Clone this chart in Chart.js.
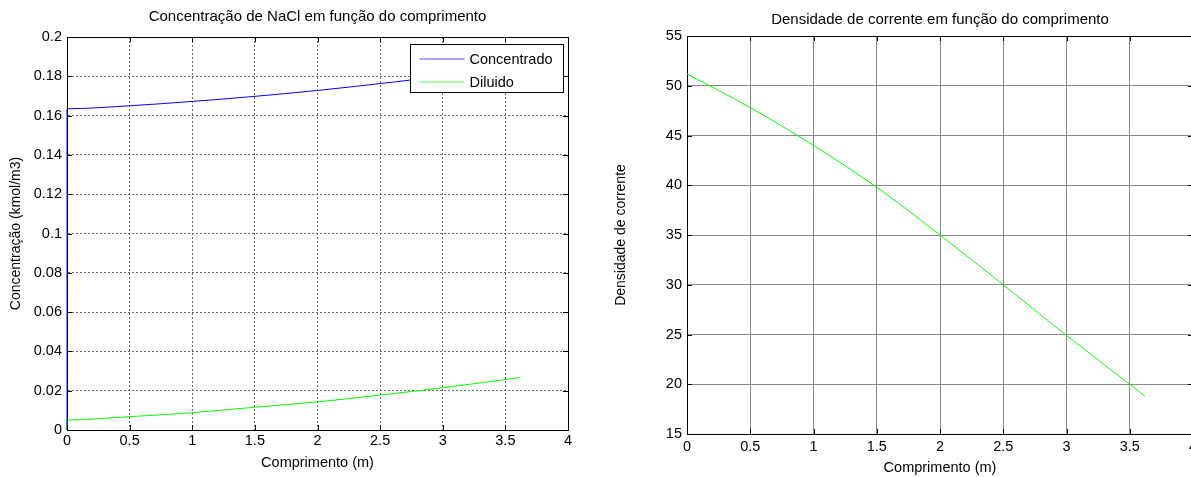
<!DOCTYPE html>
<html>
<head>
<meta charset="utf-8">
<script src="https://cdn.jsdelivr.net/npm/chart.js@4/dist/chart.umd.min.js"></script>
<style>
  html, body { margin: 0; padding: 0; background: #fff; overflow: hidden; width: 1191px; height: 477px; }
  body { position: relative; }
  canvas { position: absolute; top: 0; }
  #left { left: 0; }
  #right { left: 600px; }
</style>
</head>
<body>
<canvas id="left" width="600" height="477"></canvas>
<canvas id="right" width="620" height="477"></canvas>
<script>
// comprimento (m) e valores lidos em cada curva
const xConc = [0, 0, 0.5, 1, 1.5, 2, 2.5, 3, 3.62];
const concentrado = [0, 0.1635, 0.1650, 0.1672, 0.1698, 0.1728, 0.1763, 0.1800, 0.1850];
const xDil = [0, 0, 0.5, 1, 1.5, 2, 2.5, 3, 3.62];
const diluido = [0, 0.0051, 0.0068, 0.0088, 0.0116, 0.0143, 0.0178, 0.0215, 0.0267];
const xDens = [0, 0.5, 1, 1.5, 2, 2.5, 3, 3.5, 3.62];
const densidade = [51.2, 47.8, 44.0, 39.8, 35.0, 30.0, 24.9, 20.0, 18.8];

const xTicks = [0, 0.5, 1, 1.5, 2, 2.5, 3, 3.5, 4];
const xTickLabels = ['0', '0.5', '1', '1.5', '2', '2.5', '3', '3.5', '4'];
const concTicks = [0, 0.02, 0.04, 0.06, 0.08, 0.1, 0.12, 0.14, 0.16, 0.18, 0.2];
const concTickLabels = ['0', '0.02', '0.04', '0.06', '0.08', '0.1', '0.12', '0.14', '0.16', '0.18', '0.2'];
const densTicks = [15, 20, 25, 30, 35, 40, 45, 50, 55];
const densTickLabels = ['15', '20', '25', '30', '35', '40', '45', '50', '55'];

const FONT = '"Liberation Sans", Arial, Helvetica, sans-serif';

function pts(xs, ys) {
  return xs.map((x, i) => ({ x: x, y: ys[i] }));
}

function fixedTicks(values, labels) {
  return {
    afterBuildTicks: s => { s.ticks = values.map(v => ({ value: v })); },
    labels: labels
  };
}

// small inward tick marks on every side of the plot box
const insideTicks = {
  id: 'insideTicks',
  afterDatasetsDraw(chart) {
    const { ctx, chartArea: a, scales } = chart;
    const len = 5;
    ctx.save();
    ctx.strokeStyle = '#000';
    ctx.lineWidth = 1;
    ctx.beginPath();
    scales.x.ticks.forEach(t => {
      const px = Math.round(scales.x.getPixelForValue(t.value)) + 0.5;
      ctx.moveTo(px, a.bottom); ctx.lineTo(px, a.bottom - len);
      ctx.moveTo(px, a.top); ctx.lineTo(px, a.top + len);
    });
    scales.y.ticks.forEach(t => {
      const py = Math.round(scales.y.getPixelForValue(t.value)) + 0.5;
      ctx.moveTo(a.left, py); ctx.lineTo(a.left + len, py);
      ctx.moveTo(a.right, py); ctx.lineTo(a.right - len, py);
    });
    ctx.stroke();
    ctx.restore();
  }
};

// legend box in the upper right corner of the plot
const boxLegend = {
  id: 'boxLegend',
  afterDatasetsDraw(chart, args, opts) {
    if (!opts.show) return;
    const { ctx, chartArea: a } = chart;
    const w = 153, h = 48;
    const left = Math.round(a.right - 5 - w) + 0.5;
    const top = Math.round(a.top + 7) + 0.5;
    ctx.save();
    ctx.fillStyle = '#fff';
    ctx.fillRect(left, top, w, h);
    ctx.strokeStyle = '#000';
    ctx.lineWidth = 1;
    ctx.strokeRect(left, top, w, h);
    ctx.font = '14.5px ' + FONT;
    ctx.textBaseline = 'middle';
    ctx.fillStyle = '#000';
    chart.data.datasets.forEach((ds, i) => {
      const y = Math.round(top + 14 + i * 23);
      ctx.strokeStyle = ds.borderColor;
      ctx.globalAlpha = 0.7;
      ctx.beginPath();
      ctx.moveTo(left + 9, y);
      ctx.lineTo(left + 54, y);
      ctx.stroke();
      ctx.globalAlpha = 1;
      ctx.fillText(ds.label, left + 59, y + 0.5);
    });
    ctx.restore();
  }
};

function buildScales(cfg) {
  const xt = fixedTicks(xTicks, xTickLabels);
  const yt = fixedTicks(cfg.yTicks, cfg.yLabels);
  const gridStyle = { color: cfg.gridColor, drawTicks: false };
  return {
    x: {
      type: 'linear', position: 'bottom', min: 0, max: 4,
      afterBuildTicks: xt.afterBuildTicks,
      afterFit: s => { s.height = cfg.xHeight; },
      grid: gridStyle,
      border: { color: '#000', width: 1, dash: cfg.gridDash },
      ticks: {
        color: '#000', padding: cfg.xTickPad, maxRotation: 0, autoSkip: false,
        font: { family: FONT, size: 14.5 },
        callback: (v, i) => xt.labels[i]
      },
      title: {
        display: true, text: 'Comprimento (m)', color: '#000',
        font: { family: FONT, size: 14.5 }, padding: { top: 0, bottom: cfg.xTitlePad }
      }
    },
    y: {
      type: 'linear', position: 'left', min: cfg.yMin, max: cfg.yMax,
      afterBuildTicks: yt.afterBuildTicks,
      afterFit: s => { s.width = cfg.yWidth; },
      grid: gridStyle,
      border: { color: '#000', width: 1, dash: cfg.gridDash },
      ticks: {
        color: '#000', padding: 5, autoSkip: false,
        font: { family: FONT, size: 14.5 },
        callback: (v, i) => yt.labels[i]
      },
      title: {
        display: true, text: cfg.yTitle, color: '#000',
        font: { family: FONT, size: 14 }, padding: { top: cfg.yTitlePad, bottom: 0 }
      }
    },
    xTop: {
      type: 'linear', axis: 'x', position: 'top', min: 0, max: 4,
      afterFit: s => { s.height = cfg.topHeight; },
      grid: { display: false },
      border: { color: '#000', width: 1 },
      ticks: { display: false },
      title: {
        display: true, text: cfg.title, color: '#000',
        font: { family: FONT, size: 15 }, padding: { top: cfg.titlePad, bottom: 0 }
      }
    },
    yRight: {
      type: 'linear', axis: 'y', position: 'right', min: cfg.yMin, max: cfg.yMax,
      afterFit: s => { s.width = cfg.rightWidth; },
      grid: { display: false },
      border: { color: '#000', width: 1 },
      ticks: { display: false }
    }
  };
}

function lineSet(label, data, color) {
  return {
    label: label, data: data, borderColor: color, backgroundColor: color,
    borderWidth: 1, pointRadius: 0, fill: false,
    cubicInterpolationMode: 'monotone', clip: 3,
    xAxisID: 'x', yAxisID: 'y'
  };
}

const baseOptions = {
  responsive: false,
  animation: false,
  locale: 'en-US',
  layout: { padding: 0 },
  events: []
};

new Chart(document.getElementById('left'), {
  type: 'line',
  data: {
    datasets: [
      lineSet('Concentrado', pts(xConc, concentrado), '#0000ff'),
      lineSet('Diluido', pts(xDil, diluido), '#00ff00')
    ]
  },
  options: Object.assign({}, baseOptions, {
    plugins: {
      legend: { display: false },
      tooltip: { enabled: false },
      boxLegend: { show: true }
    },
    scales: buildScales({
      yMin: 0, yMax: 0.2, yTicks: concTicks, yLabels: concTickLabels,
      yTitle: 'Concentração (kmol/m3)',
      title: 'Concentração de NaCl em função do comprimento',
      gridColor: '#6a6a6a', gridDash: [2, 2],
      xHeight: 47, yWidth: 67, topHeight: 37, rightWidth: 32,
      xTickPad: 2.5, xTitlePad: 5.3, yTitlePad: 7.6, titlePad: 8
    })
  }),
  plugins: [insideTicks, boxLegend]
});

new Chart(document.getElementById('right'), {
  type: 'line',
  data: {
    datasets: [
      lineSet('Densidade de corrente', pts(xDens, densidade), '#00ff00')
    ]
  },
  options: Object.assign({}, baseOptions, {
    plugins: {
      legend: { display: false },
      tooltip: { enabled: false },
      boxLegend: { show: false }
    },
    scales: buildScales({
      yMin: 15, yMax: 55, yTicks: densTicks, yLabels: densTickLabels,
      yTitle: 'Densidade de corrente',
      title: 'Densidade de corrente em função do comprimento',
      gridColor: '#8a8a8a', gridDash: [],
      xHeight: 43, yWidth: 87, topHeight: 36, rightWidth: 27,
      xTickPad: 4.5, xTitlePad: 0, yTitlePad: 12.6, titlePad: 11
    })
  }),
  plugins: [insideTicks, boxLegend]
});
</script>
</body>
</html>
